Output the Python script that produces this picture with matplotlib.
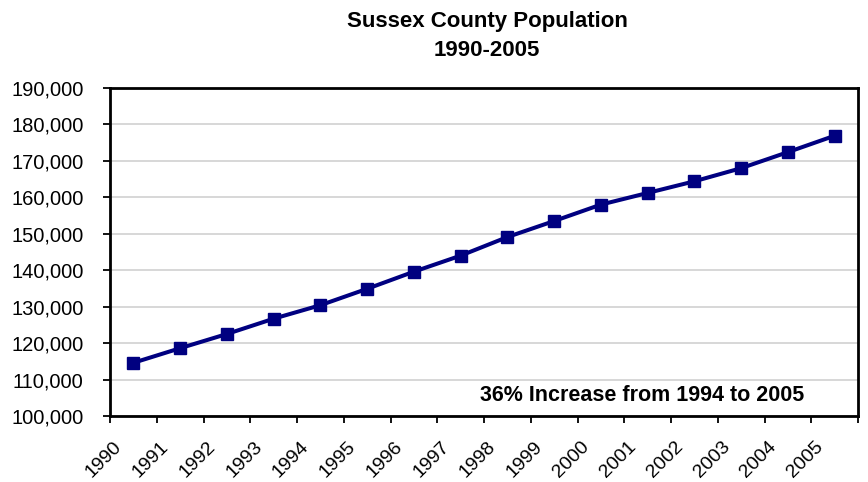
import matplotlib.pyplot as plt
from matplotlib.ticker import FuncFormatter, FixedLocator
import matplotlib.transforms as mtransforms

years = ['1990', '1991', '1992', '1993', '1994', '1995', '1996', '1997',
         '1998', '1999', '2000', '2001', '2002', '2003', '2004', '2005']
population = [114600, 118600, 122500, 126700, 130400, 134900, 139600, 144000,
              149100, 153500, 158000, 161200, 164400, 168000, 172400, 176900]

plt.rcParams['font.family'] = ['Liberation Sans', 'DejaVu Sans']

fig = plt.figure(figsize=(8.68, 4.82), dpi=100)
ax = fig.add_axes([110 / 868, 1 - 416 / 482, 748 / 868, 328 / 482])

x = list(range(len(years)))
ax.plot(x, population, color='#000080', linewidth=2.9, marker='s',
        markersize=8.5, zorder=3)

ax.set_xlim(-0.5, len(years) - 0.5)
ax.set_ylim(100000, 190000)
ax.set_yticks(range(100000, 190001, 10000))
ax.yaxis.set_major_formatter(FuncFormatter(lambda v, p: '{:,.0f}'.format(v)))
ax.grid(axis='y', color='#d4d4d4', linewidth=1.3, zorder=0)
ax.set_axisbelow(True)

ax.set_xticks(x)
ax.set_xticklabels(years, rotation=45, ha='right')
ax.xaxis.set_minor_locator(FixedLocator([i - 0.5 for i in range(len(years) + 1)]))
ax.tick_params(axis='x', which='major', length=0, labelsize=14, pad=16)
ax.tick_params(axis='x', which='minor', length=5, width=1.3, direction='out')
ax.tick_params(axis='y', length=5, width=1.3, direction='out', labelsize=14.5, pad=14)

offset = mtransforms.ScaledTranslation(-8 / 100, 0, fig.dpi_scale_trans)
for lbl in ax.get_xticklabels():
    lbl.set_transform(lbl.get_transform() + offset)

for s in ax.spines.values():
    s.set_color('black')
    s.set_linewidth(2)

fig.text(487 / 868, 1 - 21 / 482, 'Sussex County Population', ha='center',
         va='center', fontsize=16, fontweight='bold')
fig.text(487 / 868, 1 - 51 / 482, '1990-2005', ha='center',
         va='center', fontsize=16, fontweight='bold')

ax.text(0.712, 0.064, '36% Increase from 1994 to 2005', transform=ax.transAxes,
        ha='center', va='center', fontsize=15.5, fontweight='bold')

fig.savefig('out.png', dpi=100)
